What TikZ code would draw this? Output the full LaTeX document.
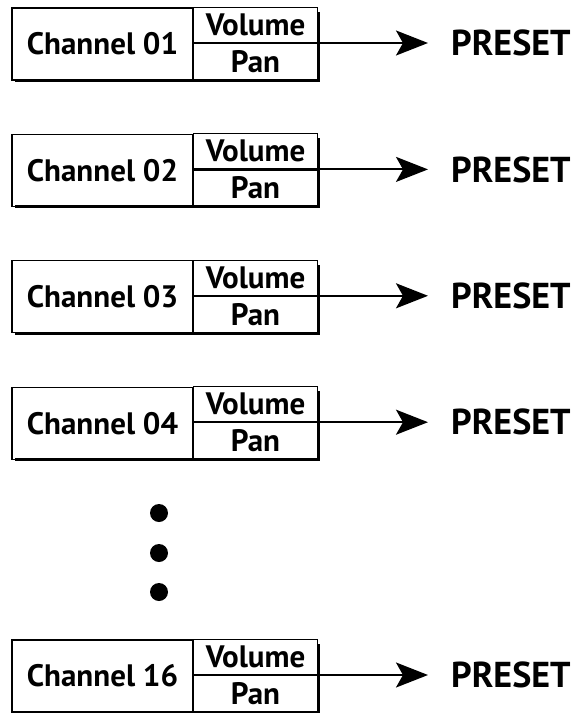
\documentclass[tikz,border=0pt]{standalone}
\usepackage{fontspec}
\setmainfont{PT Sans}
\usetikzlibrary{arrows.meta,positioning}

\tikzset{
  lbl/.style={font=\bfseries\fontsize{31}{31}\selectfont, inner sep=0pt},
  chanbox/.style={lbl, draw, line width=1.1pt, minimum width=181pt, minimum height=72pt},
  cell/.style={lbl, draw, line width=1.1pt, minimum width=124pt},
  preset/.style={font=\bfseries\fontsize{36}{36}\selectfont, inner xsep=23pt, inner ysep=0pt, anchor=west},
  feed/.style={line width=2pt, -{Stealth[length=32pt, width=25pt, inset=7pt]}}
}

\begin{document}
\begin{tikzpicture}[x=1pt, y=-1pt]
\useasboundingbox (0,0) rectangle (579,713);

\foreach \k/\n in {0/01,1/02,2/03,3/04,5/16}{
  \pgfmathsetmacro{\m}{43+126.4*\k}
  % drop shadow first
  \fill (15,\m+36) rectangle (320,\m+39);
  \fill (317,\m-31) rectangle (320,\m+39);
  \node[chanbox] (ch\n) at (102.5,\m+1) {Channel \n};
  \node[cell, minimum height=35pt, anchor=south west] (vol\n) at (193,\m) {Volume};
  \node[cell, minimum height=36pt, anchor=north west] (pan\n) at (193,\m) {Pan};
  \node[preset] (pre\n) at (428,\m) {PRESET};
  \draw[feed] (vol\n.south east) -- (pre\n.west);
}

\foreach \d in {513,553,592}
  \fill (159,\d) circle (9pt);
\end{tikzpicture}
\end{document}
